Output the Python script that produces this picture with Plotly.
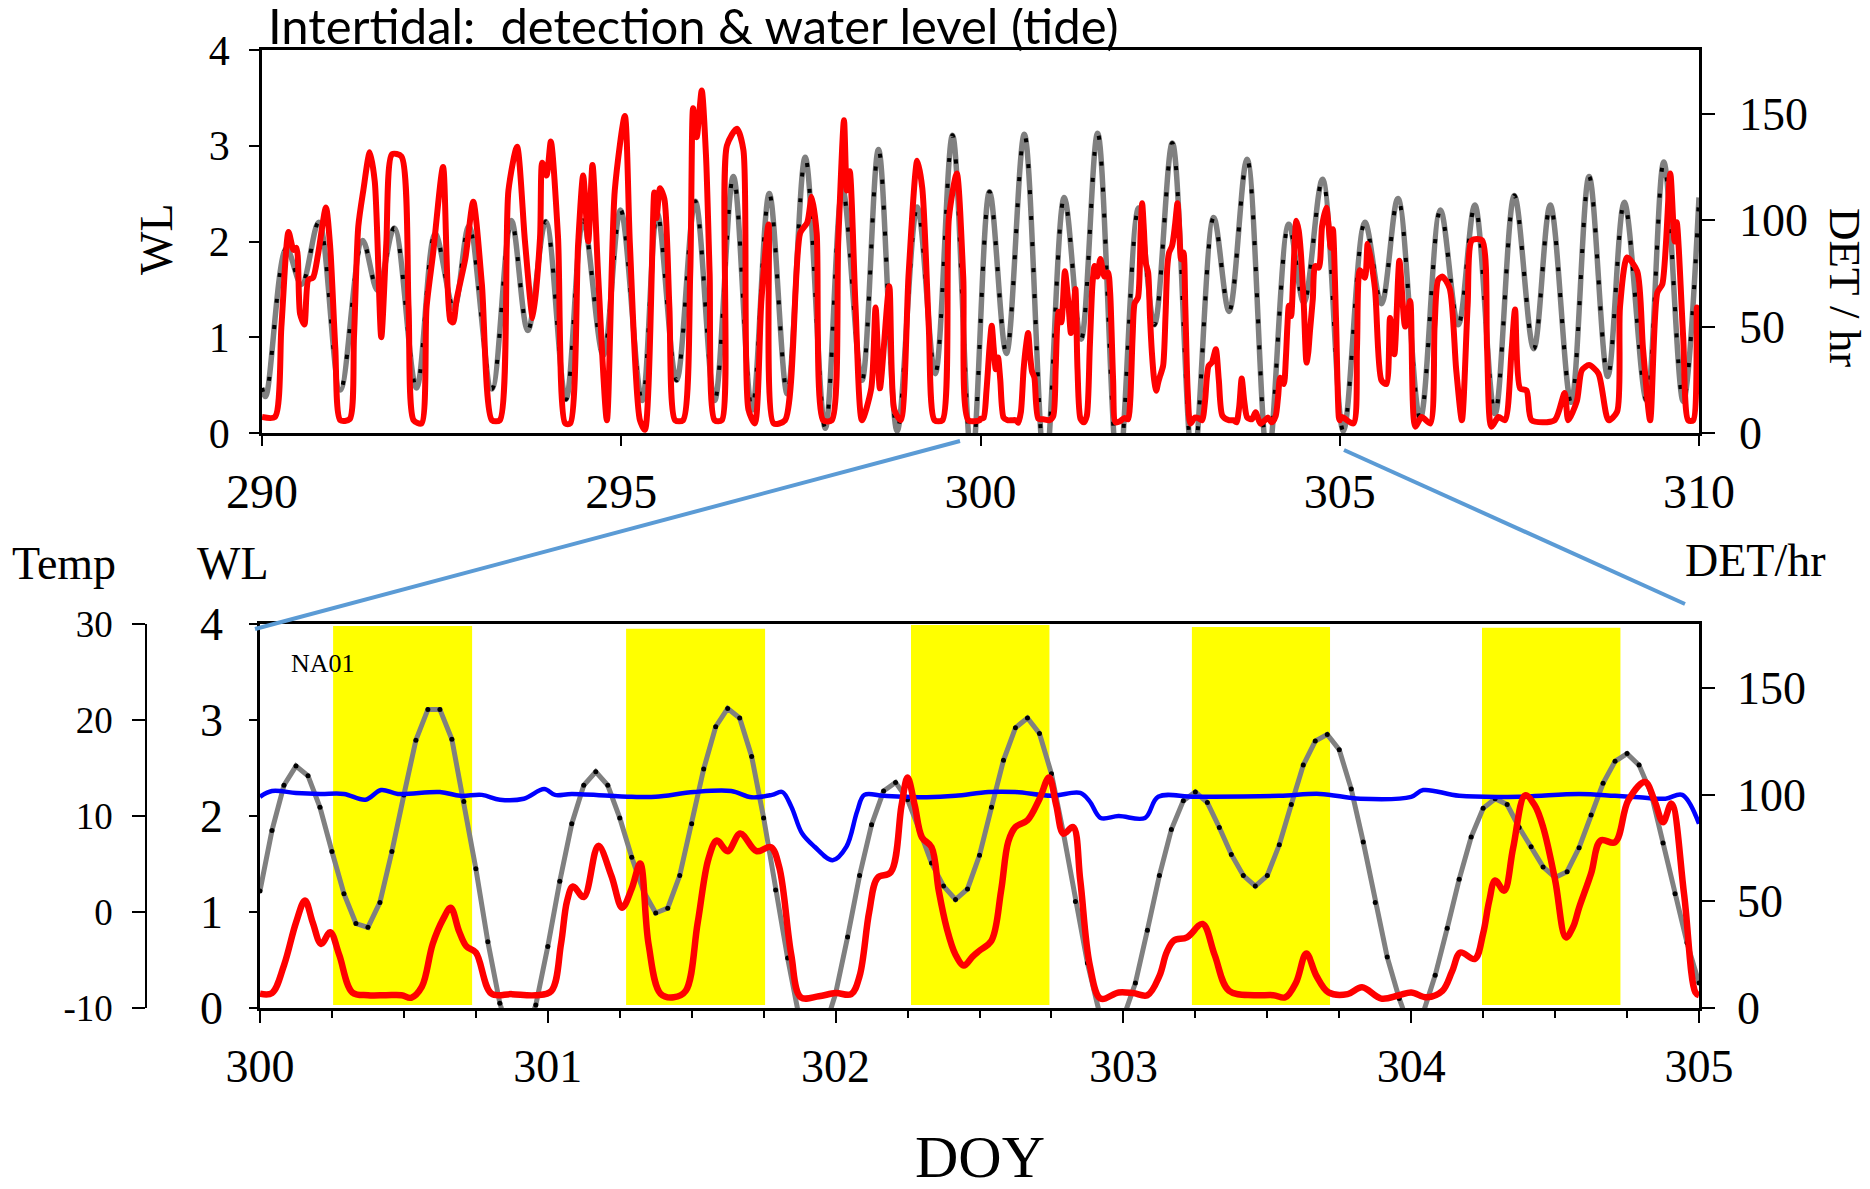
import plotly.graph_objects as go

W, H = 1870, 1189
OFF = 8  # page body margin offset of the rendered figure
def px(x): return (x - OFF) / W
def py(y): return 1 - (y - OFF) / H

SERIF = "Liberation Serif"

# ---------------- TOP PANEL DATA (DOY 290-310) ----------------
# water level: tidal highs / lows
TOP_WL_DOY = [290.00, 290.05, 290.34, 290.55, 290.79, 291.09, 291.40, 291.61, 291.84, 292.15,
              292.41, 292.67, 292.88, 293.20, 293.47, 293.70, 293.95, 294.23, 294.47, 294.75,
              294.99, 295.29, 295.50, 295.77, 296.03, 296.30, 296.56, 296.82, 297.06, 297.31,
              297.56, 297.84, 298.08, 298.35, 298.58, 298.84, 299.12, 299.37, 299.61, 299.88,
              300.125, 300.36, 300.61, 300.90, 301.165, 301.40, 301.63, 301.92, 302.20, 302.42,
              302.67, 302.96, 303.245, 303.46, 303.71, 304.00, 304.29, 304.50, 304.76, 305.05,
              305.35, 305.58, 305.81, 306.12, 306.40, 306.65, 306.88, 307.16, 307.43, 307.70,
              307.93, 308.22, 308.47, 308.73, 308.96, 309.27, 309.51, 309.78, 310.00]
TOP_WL = [0.47, 0.38, 1.93, 1.55, 2.20, 0.45, 2.01, 1.49, 2.14, 0.47,
          2.08, 1.30, 2.16, 0.46, 2.22, 1.07, 2.21, 0.35, 2.22, 0.81,
          2.33, 0.34, 2.30, 0.55, 2.42, 0.34, 2.68, 0.24, 2.50, 0.41,
          2.88, 0.05, 2.55, 0.55, 2.96, 0.02, 2.36, 0.62, 3.11, -0.30,
          2.52, 0.83, 3.12, -0.40, 2.46, 0.98, 3.13, -0.45, 2.35, 1.13,
          3.03, -0.35, 2.25, 1.27, 2.86, -0.28, 2.18, 1.36, 2.65, 0.02,
          2.20, 1.35, 2.45, 0.15, 2.33, 1.13, 2.38, 0.20, 2.48, 0.88,
          2.38, 0.32, 2.68, 0.59, 2.41, 0.34, 2.83, 0.33, 2.46]

# detections per hour, DOY 290-300
TOP_DET_A_DOY = [290.00, 290.18, 290.27, 290.37, 290.44, 290.48, 290.53, 290.59, 290.645, 290.71,
                 290.78, 290.89, 290.95, 291.02, 291.09, 291.22, 291.28, 291.34, 291.41, 291.50,
                 291.57, 291.66, 291.73, 291.81, 291.94, 292.04, 292.11, 292.22, 292.29, 292.38,
                 292.52, 292.62, 292.66, 292.71, 292.83, 292.94, 293.06, 293.20, 293.31, 293.43,
                 293.55, 293.66, 293.77, 293.87, 293.90, 293.96, 294.02, 294.12, 294.22, 294.29,
                 294.40, 294.47, 294.54, 294.60, 294.68, 294.80, 294.91, 295.05, 295.12, 295.26,
                 295.33, 295.46, 295.49, 295.54, 295.60, 295.67, 295.75, 295.86, 295.96, 296.00,
                 296.05, 296.12, 296.18, 296.23, 296.30, 296.40, 296.47, 296.61, 296.70, 296.77,
                 296.86, 296.95, 297.05, 297.12, 297.28, 297.49, 297.59, 297.65, 297.72, 297.81,
                 297.93, 298.02, 298.10, 298.14, 298.18, 298.26, 298.35, 298.48, 298.54, 298.60,
                 298.73, 298.80, 298.89, 299.00, 299.12, 299.19, 299.28, 299.36, 299.47, 299.56,
                 299.67, 299.76, 299.83, 299.99]
TOP_DET_A = [7.5, 7.5, 50, 94.5, 86, 87, 56, 51, 72, 73,
             84, 106, 87, 40, 6, 6.5, 45, 97, 114, 132,
             118, 45, 89, 131, 130, 59, 6, 4.5, 59, 84,
             125, 53, 52, 63, 82, 108.7, 70, 6, 6, 114,
             134.5, 90, 54, 92, 127, 121, 137, 92, 4.5, 4.5,
             89, 121, 90, 126, 73, 6, 114, 149, 89, 6,
             1.5, 113, 101, 115, 110, 59, 6, 6, 75, 152.6,
             139, 161, 130, 75, 6, 6, 135, 143, 133, 11,
             4.5, 62, 98, 4.5, 6, 94, 99, 111, 94, 6,
             6, 90, 147, 114, 123, 60, 6, 21, 59, 21,
             69, 11, 6, 75, 128, 115, 50, 6, 6, 101,
             122, 73, 6, 6]

# detections per hour, DOY 305-310
TOP_DET_B_DOY = [305.03, 305.19, 305.24, 305.28, 305.35, 305.39, 305.49, 305.58, 305.65, 305.70,
                 305.76, 305.83, 305.91, 305.98, 306.05, 306.14, 306.26, 306.32, 306.37, 306.43,
                 306.53, 306.62, 306.70, 306.78, 306.84, 306.98, 307.05, 307.11, 307.21, 307.30,
                 307.39, 307.44, 307.51, 307.60, 307.67, 307.99, 308.13, 308.18, 308.30, 308.37,
                 308.47, 308.60, 308.74, 308.86, 308.90, 309.00, 309.14, 309.22, 309.32, 309.42,
                 309.49, 309.60, 309.66, 309.69, 309.78, 309.85, 309.92, 309.97, 310.00]
TOP_DET_B = [7.5, 4.5, 40, 76.5, 73, 89, 68, 24.8, 23, 54,
             37, 81, 50, 62, 3, 7.5, 4.5, 50, 72, 73.5,
             68, 30, 6, 60, 90.6, 90.6, 40, 3, 7.5, 6,
             38, 58, 21, 20, 6, 6, 18.8, 6, 15, 29.5,
             31.9, 28, 6, 10, 59, 82.5, 76, 40, 6, 66,
             70, 122, 90, 99, 45, 6, 6, 59, 23]

# ---------------- BOTTOM PANEL DATA (DOY 300-305, hours from DOY 300) ----------------
BOT_WL_H = list(range(121))
BOT_WL = [1.22, 1.85, 2.32, 2.52, 2.42, 2.09, 1.63, 1.19, 0.88, 0.84,
          1.10, 1.63, 2.22, 2.79, 3.11, 3.11, 2.80, 2.15, 1.45, 0.69,
          0.05, -0.35, -0.30, 0.03, 0.64, 1.32, 1.92, 2.32, 2.46, 2.32,
          1.98, 1.57, 1.21, 0.99, 1.04, 1.38, 1.92, 2.49, 2.93, 3.12,
          3.02, 2.62, 1.98, 1.23, 0.52, -0.12, -0.45, -0.25, 0.15, 0.74,
          1.38, 1.91, 2.26, 2.35, 2.17, 1.85, 1.51, 1.27, 1.13, 1.24,
          1.59, 2.09, 2.58, 2.92, 3.02, 2.86, 2.44, 1.82, 1.11, 0.47,
          -0.05, -0.35, -0.10, 0.26, 0.81, 1.38, 1.86, 2.16, 2.25, 2.14,
          1.88, 1.60, 1.38, 1.27, 1.38, 1.70, 2.12, 2.53, 2.78, 2.85,
          2.69, 2.28, 1.73, 1.10, 0.53, 0.10, -0.25, -0.05, 0.34, 0.83,
          1.34, 1.78, 2.08, 2.18, 2.12, 1.88, 1.68, 1.47, 1.36, 1.42,
          1.67, 2.01, 2.34, 2.57, 2.65, 2.53, 2.24, 1.72, 1.19, 0.68, 0.26]

BOT_DET_H = [0, 1.0, 2.0, 3.0, 3.75, 4.4, 5.1, 5.85, 6.6, 7.7,
             9, 10.5, 11.8, 12.6, 13.5, 14.4, 15.3, 15.9, 16.6, 17.2,
             18.0, 19.3, 21, 23, 24.3, 25.1, 25.6, 26.1, 27.0, 28.2,
             29.3, 30.2, 31.0, 31.7, 32.4, 33.4, 34.5, 35.5, 36.5, 37.4,
             38.1, 39.0, 40.05, 41.4, 42.6, 43.3, 44.3, 45.1, 46.6, 48.0,
             49.3, 50.0, 50.8, 51.5, 52.6, 53.5, 54.0, 54.6, 55.2, 56.0,
             56.6, 57.25, 58.0, 58.7, 59.4, 60.0, 61.0, 61.8, 62.4, 63.0,
             64.0, 65.0, 65.8, 66.4, 67.0, 67.8, 68.4, 69.2, 70.1, 71.6,
             72.8, 74.0, 75.0, 75.6, 76.2, 77.3, 78.6, 79.6, 80.8, 82.9,
             84.5, 85.5, 86.4, 87.25, 88.1, 89.1, 90.7, 91.9, 93.5, 95.0,
             96.0, 97.3, 98.6, 99.4, 100.1, 101.3, 102.0, 102.5, 103.0, 103.75,
             104.5, 105.5, 106.3, 107.0, 108.0, 108.9, 109.5, 110.0, 111.0, 111.8,
             113.0, 114.1, 115.5, 116.3, 117.0, 117.7, 118.75, 119.7, 120]
BOT_DET = [6.7, 7.0, 20, 40, 50.4, 40, 30, 35.5, 25, 7.3,
           6, 6, 6, 4.8, 10, 30, 42, 47, 36, 29,
           26, 6.7, 6.5, 6, 8, 30, 50, 57, 52, 76,
           62, 47, 56, 67.7, 30, 6.7, 5, 8, 40, 70,
           78.5, 73.5, 81.8, 73.5, 75.4, 66, 25, 5, 5.5, 7,
           6.5, 15, 45, 61, 63.6, 95, 108, 95, 80, 75.4,
           55, 37.8, 25, 19.9, 24, 26.9, 31.6, 55, 78, 84.8,
           88, 98, 108, 95, 81.7, 84.8, 60, 20, 4.4, 7.3,
           7, 6, 15, 26, 31.6, 33.1, 39.4, 25, 8.1, 6,
           6, 5, 12, 25.6, 15, 7.3, 6.5, 9.7, 4.4, 6,
           7.3, 5, 8, 17, 26, 23, 35, 50, 59.8, 55,
           75, 99.7, 95, 84.8, 60, 33.1, 38, 47, 63, 78.5,
           77.7, 97.3, 105.9, 97, 87.1, 95.8, 53.6, 7.3, 6]

BOT_TEMP_H = [0, 1, 3, 5, 7, 8.8, 10.1, 11.5, 15, 16.7,
              18.5, 20, 22, 23.7, 24.6, 26, 31, 33, 36.2, 39.3,
              41, 42.7, 43.55, 44.3, 45.2, 46.25, 47.75, 48.9, 49.8, 50.4,
              52, 55.6, 58, 60.75, 63, 66, 68.4, 69.2, 70.1, 71.6,
              73.8, 74.9, 78, 85, 88.4, 91.75, 96, 97, 100, 105,
              110, 113, 115, 117.2, 118.6, 120]
BOT_TEMP = [12.0, 12.6, 12.4, 12.3, 12.3, 11.7, 12.7, 12.3, 12.5, 12.1,
            12.2, 11.7, 11.8, 12.8, 12.2, 12.3, 12.0, 12.0, 12.5, 12.6,
            11.95, 12.2, 12.5, 11.0, 8.2, 6.8, 5.4, 6.8, 10.5, 12.2,
            12.1, 11.95, 12.1, 12.5, 12.5, 12.1, 12.4, 11.5, 9.8, 10.0,
            9.8, 12.0, 12.0, 12.1, 12.3, 11.8, 12.0, 12.7, 12.1, 12.0,
            12.3, 12.1, 11.95, 11.8, 12.2, 9.2]

# daylight periods (yellow)
DAY_START = [300.254, 301.272, 302.262, 303.238, 304.246]
DAY_END = [300.737, 301.755, 302.743, 303.718, 304.727]
DAY_TOP = [3.98, 3.95, 3.99, 3.97, 3.96]

TOP_X_TICKS = [290, 295, 300, 305, 310]
BOT_X_TICKS = [300, 301, 302, 303, 304, 305]
WL_TICKS = [0, 1, 2, 3, 4]
DET_TICKS = [0, 50, 100, 150]
TEMP_TICKS = [-10, 0, 10, 20, 30]
TEMP_TICK_TEXT = ["-10", "0", "10", "20", "30"]

def h2doy(h):
    return 300 + h / 24.0

bot_wl_x = [h2doy(h) for h in BOT_WL_H]
bot_det_x = [h2doy(h) for h in BOT_DET_H]
bot_temp_x = [h2doy(h) for h in BOT_TEMP_H]

top_det_x = TOP_DET_A_DOY + bot_det_x + TOP_DET_B_DOY
top_det_y = TOP_DET_A + BOT_DET + TOP_DET_B

GRAY = "#808080"
RED = "#FF0000"
BLUE = "#0000FF"

fig = go.Figure()

# top panel
fig.add_trace(go.Scatter(x=TOP_WL_DOY, y=TOP_WL, mode="lines", xaxis="x", yaxis="y",
                         line=dict(color=GRAY, width=5.5, shape="spline", smoothing=1.0),
                         showlegend=False, hoverinfo="skip"))
fig.add_trace(go.Scatter(x=TOP_WL_DOY, y=TOP_WL, mode="lines", xaxis="x", yaxis="y",
                         line=dict(color="black", width=4, shape="spline", smoothing=1.0,
                                   dash="4px,22px"),
                         showlegend=False, hoverinfo="skip"))
fig.add_trace(go.Scatter(x=top_det_x, y=top_det_y, mode="lines", xaxis="x", yaxis="y2",
                         line=dict(color=RED, width=6, shape="spline", smoothing=0.7),
                         showlegend=False, hoverinfo="skip"))

# bottom panel
fig.add_trace(go.Scatter(x=bot_wl_x, y=BOT_WL, mode="lines+markers", xaxis="x2", yaxis="y3",
                         line=dict(color=GRAY, width=5),
                         marker=dict(color="black", size=5),
                         showlegend=False, hoverinfo="skip"))
fig.add_trace(go.Scatter(x=bot_temp_x, y=BOT_TEMP, mode="lines", xaxis="x2", yaxis="y4",
                         line=dict(color=BLUE, width=4.5, shape="spline", smoothing=1.0),
                         showlegend=False, hoverinfo="skip"))
fig.add_trace(go.Scatter(x=bot_det_x, y=BOT_DET, mode="lines", xaxis="x2", yaxis="y5",
                         line=dict(color=RED, width=6.5, shape="spline", smoothing=1.0),
                         showlegend=False, hoverinfo="skip"))

shapes = []
for s, e, t in zip(DAY_START, DAY_END, DAY_TOP):
    shapes.append(dict(type="rect", xref="x2", yref="y3", x0=s, x1=e, y0=0.03, y1=t,
                       fillcolor="#FFFF00", line=dict(width=0), layer="below"))
# zoom connector lines
shapes.append(dict(type="line", xref="paper", yref="paper", x0=px(960), y0=py(441),
                   x1=px(255), y1=py(629), line=dict(color="#5B9BD5", width=4)))
shapes.append(dict(type="line", xref="paper", yref="paper", x0=px(1344), y0=py(450),
                   x1=px(1685), y1=py(604), line=dict(color="#5B9BD5", width=4)))

def ann(text, x, y, size, font=SERIF, angle=0, xanchor="center"):
    return dict(text=text, x=px(x), y=py(y), xref="paper", yref="paper", showarrow=False,
                xanchor=xanchor, yanchor="middle", textangle=angle,
                font=dict(family=font, size=size, color="black"))

annotations = [
    ann("Intertidal:\u00a0 detection &amp; water level (tide)", 266, 25, 49, font="Lato", xanchor="left"),
    ann("WL", 157, 239, 46, angle=-90),
    ann("DET / hr", 1845, 287, 45, angle=90),
    ann("Temp", 64, 563, 46),
    ann("WL", 233, 563, 46),
    ann("DET/hr", 1755, 561, 46),
    ann("NA01", 323, 663, 26),
    ann("DOY", 980, 1157, 60),
]

axis_common = dict(showgrid=False, zeroline=False, showline=True, linecolor="black",
                   ticks="outside", tickcolor="black", tickwidth=2, automargin=False)

top_dom = [py(433), py(50)]
bot_dom = [py(1008), py(624)]

fig.update_layout(
    width=W, height=H, autosize=False,
    margin=dict(l=0, r=0, t=0, b=0, autoexpand=False),
    paper_bgcolor="white", plot_bgcolor="white",
    shapes=shapes, annotations=annotations,
    xaxis=dict(domain=[px(262), px(1699)], anchor="y", range=[290, 310], tickvals=TOP_X_TICKS,
               ticklen=10, linewidth=2.5, mirror=True, ticklabelstandoff=5,
               tickfont=dict(family=SERIF, size=48, color="black"), **axis_common),
    yaxis=dict(domain=top_dom, anchor="x", range=[0, 4], tickvals=WL_TICKS, ticklen=10,
               linewidth=2.5, ticklabelstandoff=11,
               tickfont=dict(family=SERIF, size=42, color="black"), **axis_common),
    yaxis2=dict(overlaying="y", anchor="x", side="right", range=[0, 180], tickvals=DET_TICKS,
                ticklen=13, linewidth=2.5, ticklabelstandoff=15,
                tickfont=dict(family=SERIF, size=46, color="black"), **axis_common),
    xaxis2=dict(domain=[px(260), px(1699)], anchor="y3", range=[300, 305], tickvals=BOT_X_TICKS,
                ticklen=12, linewidth=2.5, mirror=True, ticklabelstandoff=4,
                minor=dict(dtick=0.25, tick0=300, ticks="outside", ticklen=7, tickwidth=1.5,
                           tickcolor="black"),
                tickfont=dict(family=SERIF, size=46, color="black"), **axis_common),
    yaxis3=dict(domain=bot_dom, anchor="x2", range=[0, 4], tickvals=WL_TICKS, ticklen=8,
                linewidth=2.5, ticklabelstandoff=17,
                tickfont=dict(family=SERIF, size=46, color="black"), **axis_common),
    yaxis4=dict(overlaying="y3", anchor="free", position=px(146), side="left", range=[-10, 30],
                tickvals=TEMP_TICKS, ticktext=TEMP_TICK_TEXT, ticklen=13, linewidth=1.5,
                ticklabelstandoff=12,
                tickfont=dict(family=SERIF, size=37, color="black"), **axis_common),
    yaxis5=dict(overlaying="y3", anchor="x2", side="right", range=[0, 180], tickvals=DET_TICKS,
                ticklen=13, linewidth=2.5, ticklabelstandoff=13,
                tickfont=dict(family=SERIF, size=46, color="black"), **axis_common),
)

fig.write_html("out.html")
